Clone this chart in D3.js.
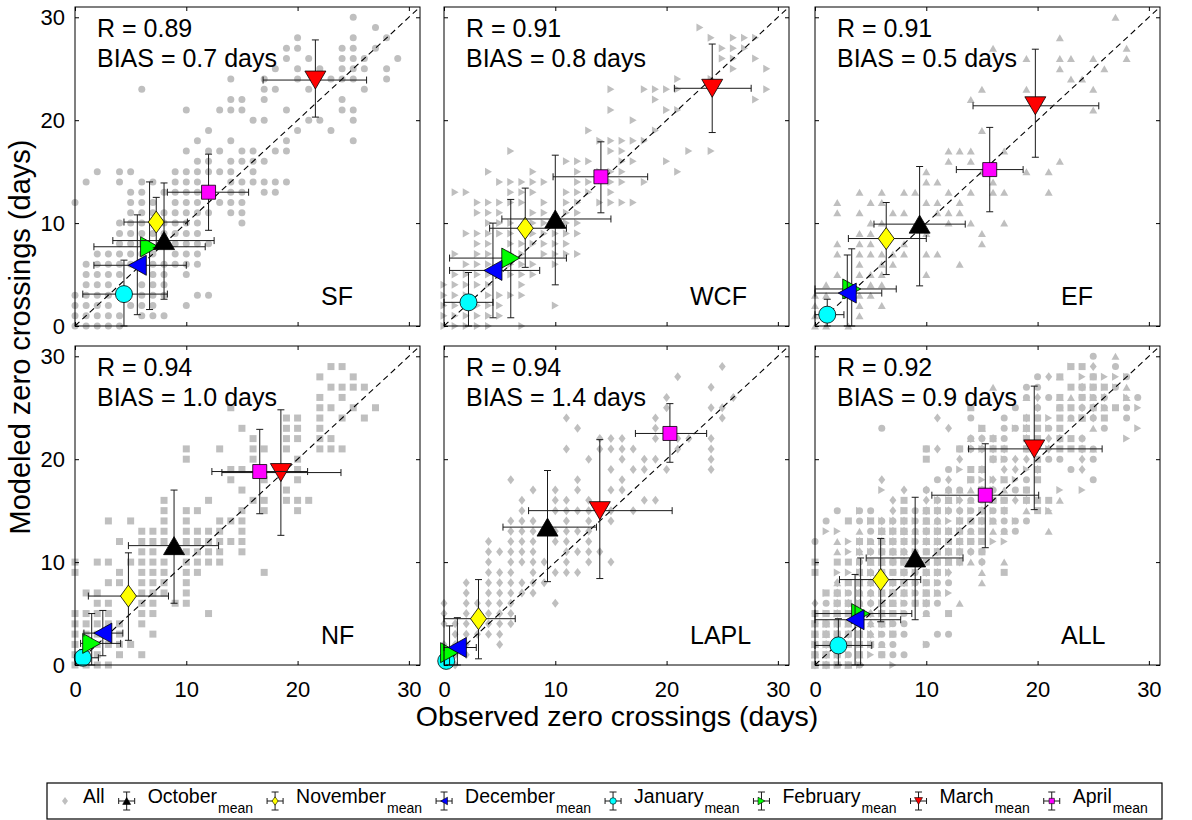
<!DOCTYPE html>
<html>
<head>
<meta charset="utf-8">
<script src="https://cdnjs.cloudflare.com/ajax/libs/d3/7.8.5/d3.min.js"></script>
<style>
  body { margin: 0; background: #fff; }
  svg text { font-family: "Liberation Sans", Arial, Helvetica, sans-serif; fill: #000; }
</style>
</head>
<body>
<svg id="chart" width="1192" height="820"></svg>
<script>
// ---- data ----
var months = ["October", "November", "December", "January", "February", "March", "April"];
var monthColors = ["#000000", "#ffff00", "#0000ff", "#00ffff", "#00ff00", "#ff0000", "#ff00ff"];
var monthShapes = ["up", "diamond", "left", "circle", "right", "down", "square"];
var drawOrder = [3, 4, 2, 1, 0, 5, 6];

var panelNames = ["SF", "WCF", "EF", "NF", "LAPL", "ALL"];
var rValues = [0.89, 0.91, 0.91, 0.94, 0.94, 0.92];
var biasValues = [0.7, 0.8, 0.5, 1.0, 1.4, 0.9];
var tickValues = [0, 10, 20, 30];
var regionShapes = ["circle", "right", "up", "square", "diamond"];

// all station-years: [modeled, [observed ...]]
var sfPoints = [
  [30,[25]],[29,[27]],[28,[20,25,28]],[27,[19,20,24,25,27]],[26,[19,21,24,25,26,29]],
  [25,[18,20,22,24,25,26,28]],[24,[14,17,20,23,24,25,28]],[23,[6,17,18,21,26]],
  [22,[14,15,17,24]],[21,[10,13,14,15,19,24,25]],[20,[16,17,21,22,25]],[19,[12,20,23]],
  [18,[11,14,19,25]],[17,[10,12,13,15,16,18,19]],[16,[11,12,14,15,16,17]],
  [15,[2,4,5,9,10,11,12,13,14,16]],[14,[1,4,6,7,9,10,11,14,15,16,17,18,19]],
  [13,[5,6,8,9,10,11,14,15,17,18]],[12,[0,5,6,7,9,10,11,13,14,15]],
  [11,[5,6,7,8,9,10,11,12,14,15]],[10,[4,5,6,7,8,9,10,11,15]],[9,[4,5,6,7,8,9,10,11]],
  [8,[4,5,6,8,9,10,11,12]],[7,[2,3,4,5,6,7,9,10,11]],[6,[1,2,3,4,5,6,7,8,9,10,11]],
  [5,[1,2,3,4,7,8,10]],[4,[1,2,3,6,7,8]],[3,[0,1,2,3,6,7,8,11,12]],
  [2,[0,1,2,3,5,6,7,10]],[1,[0,1,2,3,4,6,7,8]],[0,[0,1,2,3,4]]
];
var wcfPoints = [
  [29,[23]],[28,[24,26,27,28]],[27,[25,26,27]],[26,[25,26,28]],[25,[26,29]],[24,[21,24]],
  [23,[15,18,19,20,21,29]],[22,[19,28]],[21,[15,20,21]],[20,[17]],[19,[13,19]],
  [18,[14,15,16,17,18]],[17,[6,15,16,22,24]],[16,[11,12,13,16,17,20]],
  [15,[4,8,12,14,15,16,21]],[14,[5,6,7,8,9,12,13,15,16,18]],[13,[1,2,6,7,8,11,12,13,15]],
  [12,[3,4,5,6,7,9,11,12,14,15,16,17]],[11,[3,4,5,8,9,11,12]],[10,[4,5,6,8,9,11,12]],
  [9,[2,3,4,5,6,8,9,10,11,12]],[8,[3,4,6,7,8,9,10,11]],[7,[1,3,4,6,7,9,10,11,12]],
  [6,[2,3,4,6,7,8,10]],[5,[1,2,3,4,6,7,8]],[4,[0,1,2,3,4,7]],[3,[0,1,2,4,5,6,7]],
  [2,[0,1,3,4,5,10]],[1,[0,1,2,3,4,5]],[0,[0,1,2,3,4,7]]
];
var efPoints = [
  [30,[27]],[28,[22]],[27,[16,28]],[26,[19,22,23,25,28]],[25,[22,26]],[24,[23,24]],
  [23,[15,19,25]],[22,[14]],[21,[25]],[19,[15]],[17,[12,13,14,17]],[16,[12,14,22]],
  [15,[10,15,19,21]],[14,[10,11,16]],[13,[4,6,8,9,12,14,16,17,21]],[12,[2,5,6,10,11,13]],
  [11,[2,4,7,8,11,12,13]],[10,[5,6,12,14,17]],[9,[4,5,10,15]],[8,[2,4,5,8,15]],
  [7,[2,4,5,6,7,8,10,11]],[6,[4,6,7,13]],[5,[2,4,5,6,10]],[4,[1,3,5,6]],[3,[0,1,4,5]],
  [2,[0,4,6]],[1,[0,1,4]],[0,[0,1,3]]
];
var nfPoints = [
  [29,[23,24]],[28,[22,25]],[27,[23,24,25,26]],[26,[22,24]],[25,[14,22,23,25,27]],
  [24,[19,20,22,24,26]],[23,[15,19,20,22]],[22,[16,19,20,22,23]],
  [21,[10,13,16,17,19,22,23,24]],[20,[10,16,20]],[19,[14,15,20]],[18,[14,17,20]],
  [17,[15,19]],[16,[8,12,16,17,19,20,21]],[15,[8,10,11,15,17,20]],
  [14,[3,5,8,10,13,14,15]],[13,[6,7,8,10,11,12,13,15]],[12,[4,6,7,8,10,11,12,13,14,15]],
  [11,[6,7,10,11,12,13,15]],[10,[0,2,3,5,6,7,8,10,11,12,13]],[9,[0,4,6,7,8,10,11,17]],
  [8,[3,4,6,7,8,10]],[7,[1,2,6,7,8,10]],[6,[2,3,6,7,9,10]],[5,[0,1,2,3,6,7,12]],
  [4,[0,1,2,3,4,6]],[3,[0,1,2,3,4,7]],[2,[0,1,2,3,4,5]],[1,[0,1,2,4,6]],[0,[0,1,2,3]]
];
var laplPoints = [
  [29,[25]],[28,[21]],[27,[24]],[26,[20,26]],[25,[20,24,25]],[24,[11,19,25]],[23,[12,19]],
  [22,[14,15,16,19,21,22,24]],[21,[11,14,15,16,17,21,24]],[20,[13,16,18,19,24]],
  [19,[15,17,18,20,24]],[18,[6,12,16]],[17,[8,10,12,15,16]],[16,[7,10,11,13,18,19]],
  [15,[7,10,11,12,13,15,17]],[14,[6,7,8,11,13,15]],[13,[6,7,8,10,11,12,13]],
  [12,[4,6,7,8,10,11,13]],[11,[4,5,6,7,8,11,12,13,14]],[10,[4,6,7,8,9,11,13,15]],
  [9,[4,5,6,8,10,11,12]],[8,[2,4,5,6,7,8,9]],[7,[2,4,5,6,7,8]],[6,[0,2,3,4,5,6,10]],
  [5,[0,2,4,5,6]],[4,[0,1,2,4,5,6]],[3,[1,2,3,4,5]],[2,[0,1,2,5]],[1,[0,1,2]],[0,[0,1]]
];

// monthly means, Oct..Apr: [obs, mod, obsLo, obsHi, modLo, modHi]
var sfMeans = [
  [8.0, 8.3, 3.4, 12.5, 2.6, 13.9], [7.3, 10.1, 4.4, 10.1, 7.6, 12.5],
  [5.6, 5.9, 1.7, 10.0, 1.1, 10.8], [4.4, 3.1, 0.7, 8.3, 0.0, 6.4],
  [6.7, 7.7, 1.7, 11.7, 1.6, 14.0], [21.6, 23.9, 16.9, 26.2, 20.3, 27.8],
  [12.0, 13.0, 8.3, 15.6, 9.3, 16.7]
];
var wcfMeans = [
  [10.0, 10.4, 5.2, 15.0, 4.0, 16.6], [7.3, 9.5, 4.1, 11.0, 5.7, 13.4],
  [4.4, 5.4, 0.5, 8.6, 0.8, 10.0], [2.2, 2.3, 0.0, 4.4, 0.0, 5.2],
  [6.0, 6.6, 0.5, 11.0, 0.8, 12.3], [24.1, 23.1, 20.7, 27.6, 18.8, 27.4],
  [14.1, 14.5, 9.8, 18.3, 11.0, 17.9]
];
var efMeans = [
  [9.4, 9.9, 5.3, 13.5, 3.9, 15.5], [6.4, 8.5, 3.0, 10.0, 5.0, 12.0],
  [2.9, 3.2, 0.0, 6.0, 0.0, 6.9], [1.1, 1.1, 0.0, 2.6, 0.0, 2.6],
  [3.3, 3.6, 0.0, 7.3, 0.0, 7.5], [19.8, 21.4, 14.2, 25.5, 16.4, 26.9],
  [15.7, 15.2, 12.7, 18.7, 11.1, 19.3]
];
var nfMeans = [
  [8.9, 11.6, 4.8, 12.9, 6.0, 17.0], [4.8, 6.7, 1.2, 8.4, 2.4, 10.9],
  [2.5, 3.1, 0.8, 4.3, 0.9, 5.3], [0.7, 0.7, 0.0, 2.1, 0.0, 1.5],
  [1.5, 2.1, 0.5, 4.1, 0.0, 5.0], [18.5, 18.7, 13.2, 23.9, 12.6, 24.8],
  [16.6, 18.8, 12.3, 20.9, 14.7, 22.9]
];
var laplMeans = [
  [9.3, 13.4, 5.3, 13.7, 8.1, 18.9], [3.1, 4.5, 0.0, 6.4, 0.6, 8.3],
  [1.2, 1.7, 0.0, 2.9, 0.0, 4.6], [0.2, 0.4, 0.0, 0.8, 0.0, 1.2],
  [0.5, 1.2, 0.0, 1.8, 0.0, 3.8], [14.0, 15.0, 7.6, 20.5, 8.4, 21.9],
  [20.3, 22.5, 17.2, 23.6, 19.7, 25.4]
];
var allMeans = [
  [9.0, 10.4, 4.6, 13.3, 4.4, 16.3], [5.9, 8.3, 2.2, 9.5, 4.2, 12.3],
  [3.6, 4.4, 0.0, 7.7, 0.0, 8.8], [2.1, 1.9, 0.0, 5.1, 0.0, 4.5],
  [4.1, 5.0, 0.0, 8.7, 0.0, 10.4], [19.7, 21.0, 13.8, 25.8, 15.1, 27.1],
  [15.3, 16.5, 10.5, 20.1, 11.4, 21.5]
];

// ---- layout ----
var svg = d3.select("#chart");
var lefts = [75, 444, 815], tops = [7, 346], W = 345, H = 319;
var gray = "#bfbfbf";

function expand(rows, shape) {
  var out = [];
  rows.forEach(function(r) {
    r[1].forEach(function(obs) { out.push({x: obs, y: r[0], shape: shape}); });
  });
  return out;
}
var regionPts = [sfPoints, wcfPoints, efPoints, nfPoints, laplPoints].map(function(rows, i) {
  return expand(rows, regionShapes[i]);
});
var panelPts = regionPts.concat([d3.merge(regionPts)]);
var panelMeans = [sfMeans, wcfMeans, efMeans, nfMeans, laplMeans, allMeans];

// marker outline centred on 0,0 with bounding box w x h
function shapePath(shape, w, h) {
  var a = w / 2, b = h / 2;
  switch (shape) {
    case "circle":
      return "M" + (-a) + ",0A" + a + "," + a + " 0 1,0 " + a + ",0A" + a + "," + a + " 0 1,0 " + (-a) + ",0Z";
    case "square": return "M" + (-a) + "," + (-b) + "H" + a + "V" + b + "H" + (-a) + "Z";
    case "diamond": return "M0," + (-b) + "L" + a + ",0L0," + b + "L" + (-a) + ",0Z";
    case "up": return "M0," + (-b) + "L" + a + "," + b + "L" + (-a) + "," + b + "Z";
    case "down": return "M0," + b + "L" + a + "," + (-b) + "L" + (-a) + "," + (-b) + "Z";
    case "right": return "M" + a + ",0L" + (-a) + "," + (-b) + "L" + (-a) + "," + b + "Z";
    case "left": return "M" + (-a) + ",0L" + a + "," + (-b) + "L" + a + "," + b + "Z";
  }
}
var graySize = {circle: [7, 7], square: [7, 7], diamond: [7, 9], up: [8, 7], right: [7, 8]};
var meanSize = {circle: [17, 17], square: [14, 14], diamond: [16, 22], up: [21, 18], down: [21, 18], left: [18, 20], right: [18, 20]};

panelNames.forEach(function(name, p) {
  var col = p % 3, row = Math.floor(p / 3);
  var left = lefts[col], top = tops[row];
  var x = d3.scaleLinear().domain([0, 31]).range([left, left + W]);
  var y = d3.scaleLinear().domain([0, 31]).range([top + H, top]);
  var g = svg.append("g");

  // gray points
  g.selectAll("path.pt").data(panelPts[p]).enter().append("path")
    .attr("class", "pt")
    .attr("d", function(d) { var s = graySize[d.shape]; return shapePath(d.shape, s[0], s[1]); })
    .attr("transform", function(d) { return "translate(" + x(d.x) + "," + y(d.y) + ")"; })
    .attr("fill", gray);

  // 1:1 line
  g.append("line")
    .attr("x1", x(0)).attr("y1", y(0)).attr("x2", x(31)).attr("y2", y(31))
    .attr("stroke", "#000").attr("stroke-width", 1.1).attr("stroke-dasharray", "6,4");

  // monthly means with error bars
  var means = panelMeans[p];
  drawOrder.forEach(function(m) {
    var d = means[m], cx = x(d[0]), cy = y(d[1]);
    var eb = g.append("g").attr("stroke", "#1a1a1a").attr("stroke-width", 1).attr("fill", "none");
    eb.append("line").attr("x1", x(d[2])).attr("x2", x(d[3])).attr("y1", cy).attr("y2", cy);
    eb.append("line").attr("x1", x(d[2])).attr("x2", x(d[2])).attr("y1", cy - 3.5).attr("y2", cy + 3.5);
    eb.append("line").attr("x1", x(d[3])).attr("x2", x(d[3])).attr("y1", cy - 3.5).attr("y2", cy + 3.5);
    eb.append("line").attr("x1", cx).attr("x2", cx).attr("y1", y(d[4])).attr("y2", y(d[5]));
    eb.append("line").attr("x1", cx - 3.5).attr("x2", cx + 3.5).attr("y1", y(d[4])).attr("y2", y(d[4]));
    eb.append("line").attr("x1", cx - 3.5).attr("x2", cx + 3.5).attr("y1", y(d[5])).attr("y2", y(d[5]));
    var s = meanSize[monthShapes[m]];
    g.append("path")
      .attr("d", shapePath(monthShapes[m], s[0], s[1]))
      .attr("transform", "translate(" + cx + "," + cy + ")")
      .attr("fill", monthColors[m]).attr("stroke", "#000").attr("stroke-width", 0.8);
  });

  // axes: inward ticks on all four sides
  var noLabel = function() { return ""; };
  function styleAxis(sel) {
    sel.select(".domain").remove();
    sel.selectAll("text").style("font-size", "22px");
  }
  g.append("g").attr("transform", "translate(0," + (top + H) + ")")
    .call(d3.axisBottom(x).tickValues(tickValues).tickSizeInner(-4).tickSizeOuter(0).tickPadding(16)
      .tickFormat(row === 1 ? d3.format("d") : noLabel)).call(styleAxis);
  g.append("g").attr("transform", "translate(0," + top + ")")
    .call(d3.axisTop(x).tickValues(tickValues).tickSizeInner(-4).tickSizeOuter(0).tickFormat(noLabel)).call(styleAxis);
  g.append("g").attr("transform", "translate(" + left + ",0)")
    .call(d3.axisLeft(y).tickValues(tickValues).tickSizeInner(-4).tickSizeOuter(0).tickPadding(10)
      .tickFormat(col === 0 ? d3.format("d") : noLabel)).call(styleAxis);
  g.append("g").attr("transform", "translate(" + (left + W) + ",0)")
    .call(d3.axisRight(y).tickValues(tickValues).tickSizeInner(-4).tickSizeOuter(0).tickFormat(noLabel)).call(styleAxis);

  g.append("rect").attr("x", left).attr("y", top).attr("width", W).attr("height", H)
    .attr("fill", "none").attr("stroke", "#000").attr("stroke-width", 1);

  // stats text and region label
  g.append("text").attr("x", left + 22).attr("y", top + 30).style("font-size", "25px")
    .text("R = " + d3.format(".2f")(rValues[p]));
  g.append("text").attr("x", left + 22).attr("y", top + 60).style("font-size", "25px")
    .text("BIAS = " + d3.format(".1f")(biasValues[p]) + " days");
  g.append("text").attr("x", left + 246).attr("y", top + 298).style("font-size", "25px").text(name);
});

// axis titles
svg.append("text").attr("x", 617).attr("y", 726).attr("text-anchor", "middle")
  .style("font-size", "28.5px").text("Observed zero crossings (days)");
svg.append("text").attr("transform", "translate(30,337) rotate(-90)").attr("text-anchor", "middle")
  .style("font-size", "29px").text("Modeled zero crossings (days)");

// legend
var lg = svg.append("g");
lg.append("rect").attr("x", 47).attr("y", 783).attr("width", 1115).attr("height", 36)
  .attr("fill", "#fff").attr("stroke", "#000").attr("stroke-width", 1.2);
var ly = 801, lx = 65, gap = 22, offs = 21;
lg.append("path").attr("d", shapePath("diamond", 6, 8)).attr("transform", "translate(" + lx + "," + ly + ")").attr("fill", gray);
var t = lg.append("text").attr("x", lx + 18).attr("y", 803).style("font-size", "19.5px").text("All");
var end = lx + 18 + t.node().getComputedTextLength();
months.forEach(function(m, i) {
  var ix = end + gap;
  var ic = lg.append("g").attr("transform", "translate(" + ix + "," + ly + ")")
    .attr("stroke", "#1a1a1a").attr("stroke-width", 1);
  ic.append("line").attr("x1", -8).attr("x2", 8).attr("y1", 0).attr("y2", 0);
  ic.append("line").attr("x1", -8).attr("x2", -8).attr("y1", -3).attr("y2", 3);
  ic.append("line").attr("x1", 8).attr("x2", 8).attr("y1", -3).attr("y2", 3);
  ic.append("line").attr("x1", 0).attr("x2", 0).attr("y1", -9).attr("y2", 9);
  ic.append("line").attr("x1", -3.5).attr("x2", 3.5).attr("y1", -9).attr("y2", -9);
  ic.append("line").attr("x1", -3.5).attr("x2", 3.5).attr("y1", 9).attr("y2", 9);
  var ms = meanSize[monthShapes[i]];
  ic.append("path").attr("d", shapePath(monthShapes[i], ms[0] * 0.38, ms[1] * 0.38))
    .attr("fill", monthColors[i]).attr("stroke", "#000").attr("stroke-width", 0.6);
  var tx = ix + offs;
  var mt = lg.append("text").attr("x", tx).attr("y", 803).style("font-size", "19.5px").text(m);
  var sx = tx + mt.node().getComputedTextLength() + 1;
  var st = lg.append("text").attr("x", sx).attr("y", 813).style("font-size", "14px").text("mean");
  end = sx + st.node().getComputedTextLength();
});
</script>
</body>
</html>
